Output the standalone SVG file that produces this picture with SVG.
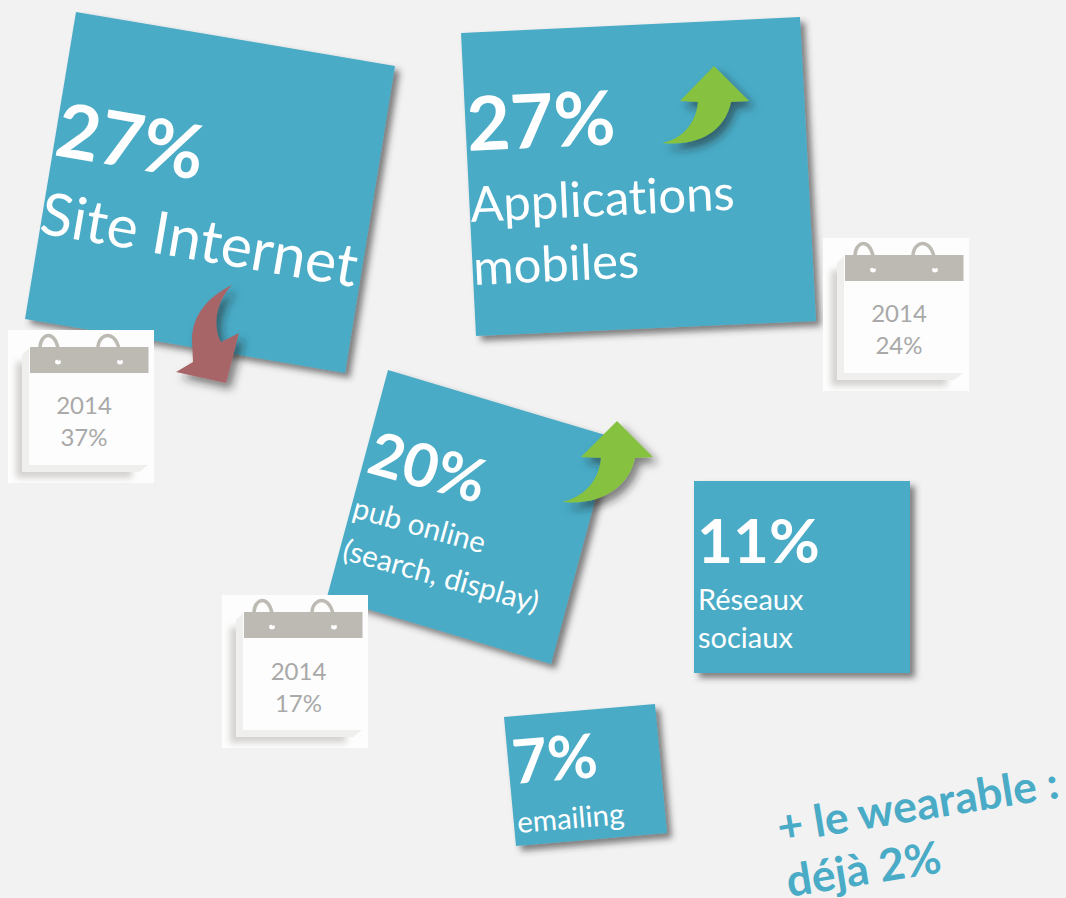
<svg xmlns="http://www.w3.org/2000/svg" xmlns:xlink="http://www.w3.org/1999/xlink" width="1066" height="898" viewBox="0 0 1066 898">
<style>
text{font-family:Lato,"Liberation Sans",sans-serif;font-variant-ligatures:none}
.card{fill:#4aabc6;filter:url(#sh)}
.w{fill:#fff}
.b{font-weight:700}
.cal{fill:#a9a9a9;font-size:24px;text-anchor:middle}
.ring{fill:none;stroke:#bcbab2;stroke-width:3.500;stroke-linecap:round}
.hole{fill:#fff;stroke:#bcbab2;stroke-width:1.200}
.up{fill:#86c13f;filter:url(#sa)}
.down{fill:#a86567;filter:url(#sa)}
.plus{fill:#4aabc6;font-weight:700;font-size:44.500px}
</style>
<defs>
<filter id="sh" x="-10%" y="-10%" width="125%" height="125%"><feDropShadow dx="5" dy="5" stdDeviation="3" flood-color="#333" flood-opacity=".6"/></filter>
<filter id="sa" x="-30%" y="-30%" width="170%" height="170%"><feDropShadow dx="5" dy="6" stdDeviation="4" flood-color="#222" flood-opacity=".55"/></filter>
<filter id="bl" x="-10%" y="-10%" width="120%" height="120%"><feGaussianBlur stdDeviation="3"/></filter>
<g id="calendar">
<rect x="0" y="0" width="146" height="153" fill="#fdfdfd"/>
<path d="M8 32H124V148H8Z" fill="#d4d3d0" filter="url(#bl)"/>
<path d="M14 25L22 17V135H140L131 142H14Z" fill="#efefed"/>
<rect x="21" y="17" width="119" height="118" fill="#fdfdfd"/>
<rect x="22" y="17" width="118.500" height="26" fill="#bcbab2"/>
<ellipse class="hole" cx="50" cy="32" rx="3.500" ry="3"/>
<ellipse class="hole" cx="112" cy="32" rx="3.500" ry="3"/>
<path class="ring" d="M32 17C33 1 51 -1 51 29"/>
<path class="ring" d="M90 17C91 1 112 -1 112 29"/>
</g>
</defs>
<rect width="1066" height="898" fill="#f2f2f2"/>
<g id="card-site">
<path class="card" d="M76 12L395 66L345 373L25 319Z"/>
<text class="w b" font-size="75" transform="translate(53 155) rotate(9.700)">27%</text>
<text class="w" font-size="59" transform="translate(38 233) rotate(9.700)">Site Internet</text>
</g>
<g id="card-apps">
<path class="card" d="M461 33L800 17L816 321L476 336Z"/>
<text class="w b" font-size="75" transform="translate(468 151) rotate(-2.700)">27%</text>
<text class="w" font-size="49" transform="translate(471 222) rotate(-2.700)">Applications</text>
<text class="w" font-size="49" transform="translate(474 285) rotate(-2.700)">mobiles</text>
</g>
<g id="card-pub">
<path class="card" d="M388 370L612 437L551 664L327 597Z"/>
<text class="w b" font-size="60" transform="translate(365 472) rotate(15.500)">20%</text>
<text class="w" font-size="29.500" transform="translate(351 517) rotate(15.500)">pub online</text>
<text class="w" font-size="29.500" transform="translate(341 559) rotate(15.500)">(search, display)</text>
</g>
<g id="card-social">
<path class="card" d="M694 481H910V673H694Z"/>
<text class="w b" font-size="62" x="697" y="563">11%</text>
<text class="w" font-size="29" x="698" y="610">Réseaux</text>
<text class="w" font-size="29" x="698" y="648">sociaux</text>
</g>
<g id="card-email">
<path class="card" d="M504 717L655 704L667 833L516 846Z"/>
<text class="w b" font-size="61" transform="translate(514 784) rotate(-4.800)">7%</text>
<text class="w" font-size="29.500" transform="translate(518 833) rotate(-4.800)">emailing</text>
</g>
<g id="arrow-site"><path class="down" d="M232 285C205 298 192 318 192 340L193 362L176 372L226 383L239 333L221 342C214 330 213 305 232 285Z"/></g>
<g id="arrow-apps"><path class="up" d="M714 66L749 101L731 102C726 128 702 147 662 143C680 140 696 125 698 102L680 101Z"/></g>
<g id="arrow-pub"><path class="up" d="M617 421L653 457L635 458C630 484 604 506 562 502C582 498 599 482 601 458L581 457Z"/></g>
<g id="calendar-site"><use href="#calendar" x="8" y="330"/><text class="cal" x="84" y="414">2014</text><text class="cal" x="84" y="446">37%</text></g>
<g id="calendar-apps"><use href="#calendar" x="823" y="238"/><text class="cal" x="899" y="322">2014</text><text class="cal" x="899" y="354">24%</text></g>
<g id="calendar-pub"><use href="#calendar" x="222" y="595"/><text class="cal" x="298.500" y="680">2014</text><text class="cal" x="298.500" y="712">17%</text></g>
<g id="note-wearable">
<text class="plus" transform="translate(780 843) rotate(-9.200)">+ le wearable :</text>
<text class="plus" transform="translate(789 897) rotate(-9.200)">déjà 2%</text>
</g>
</svg>
